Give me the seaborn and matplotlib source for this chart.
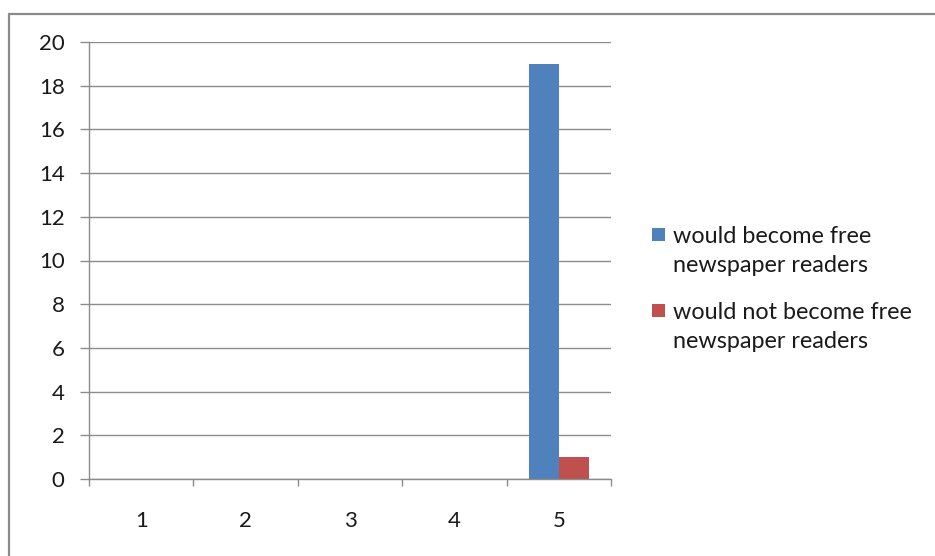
import matplotlib
matplotlib.use("Agg")
import matplotlib.pyplot as plt
import seaborn as sns
import pandas as pd
from matplotlib.lines import Line2D
from matplotlib.patches import Rectangle
from matplotlib.ticker import FixedLocator

categories = ["1", "2", "3", "4", "5"]
series_names = ["would become free\nnewspaper readers",
                "would not become free\nnewspaper readers"]
would_become = [0, 0, 0, 0, 19]
would_not_become = [0, 0, 0, 0, 1]
colors = ["#4F81BD", "#C0504D"]
y_ticks = [0, 2, 4, 6, 8, 10, 12, 14, 16, 18, 20]

df = pd.DataFrame({
    "category": categories * 2,
    "value": would_become + would_not_become,
    "series": [series_names[0]] * len(categories) + [series_names[1]] * len(categories),
})

sns.set_theme(style="white")
plt.rcParams["font.family"] = ["Lato", "DejaVu Sans"]

W, H = 935, 556
fig = plt.figure(figsize=(W / 100, H / 100), dpi=100)
ax = fig.add_axes([89 / W, 1 - 479 / H, (611 - 89) / W, (479 - 42) / H])

sns.barplot(data=df, x="category", y="value", hue="series", order=categories,
            hue_order=series_names, palette=colors, width=0.571, gap=0,
            saturation=1, ax=ax, linewidth=0, edgecolor="none", legend=False)

ax.set_xlim(-0.5, 4.5)
ax.set_ylim(0, 20)
ax.set_yticks(y_ticks)
ax.set_yticklabels([str(t) for t in y_ticks])
ax.set_xlabel("")
ax.set_ylabel("")

grid_c = "#8C8C8C"
txt_c = "#1A1A1A"
ax.yaxis.grid(True, color=grid_c, linewidth=1)
ax.set_axisbelow(True)
for s in ["top", "right"]:
    ax.spines[s].set_visible(False)
for s in ["left", "bottom"]:
    ax.spines[s].set_color(grid_c)
    ax.spines[s].set_linewidth(1)

ax.tick_params(axis="y", which="major", direction="out", length=6.5, width=1,
               color=grid_c, pad=11, labelsize=16, labelcolor=txt_c, left=True)
ax.tick_params(axis="x", which="major", length=0, pad=23, labelsize=16,
               labelcolor=txt_c, bottom=True)
ax.xaxis.set_minor_locator(FixedLocator([-0.5, 0.5, 1.5, 2.5, 3.5, 4.5]))
ax.tick_params(axis="x", which="minor", direction="out", length=5, width=1,
               color=grid_c, bottom=True)

# legend (Excel style: swatch aligned with first line)
leg_x_sq = 652 / W
leg_x_txt = 673 / W
first_line_y = [235, 311]
for name, c, yl in zip(series_names, colors, first_line_y):
    fig.add_artist(Rectangle((leg_x_sq, 1 - (yl + 6) / H), 13 / W, 13 / H,
                             transform=fig.transFigure, facecolor=c, edgecolor="none"))
    fig.text(leg_x_txt, 1 - (yl - 9) / H, name, ha="left", va="top",
             fontsize=16.8, color=txt_c, linespacing=1.5)

border_c = "#8A8A8A"
fig.add_artist(Line2D([9 / W, 1], [1 - 14 / H, 1 - 14 / H], transform=fig.transFigure,
                      color=border_c, linewidth=1.6))
fig.add_artist(Line2D([9 / W, 9 / W], [0, 1 - 14 / H], transform=fig.transFigure,
                      color=border_c, linewidth=1.6))

fig.savefig("out.png", dpi=100, facecolor="white")
